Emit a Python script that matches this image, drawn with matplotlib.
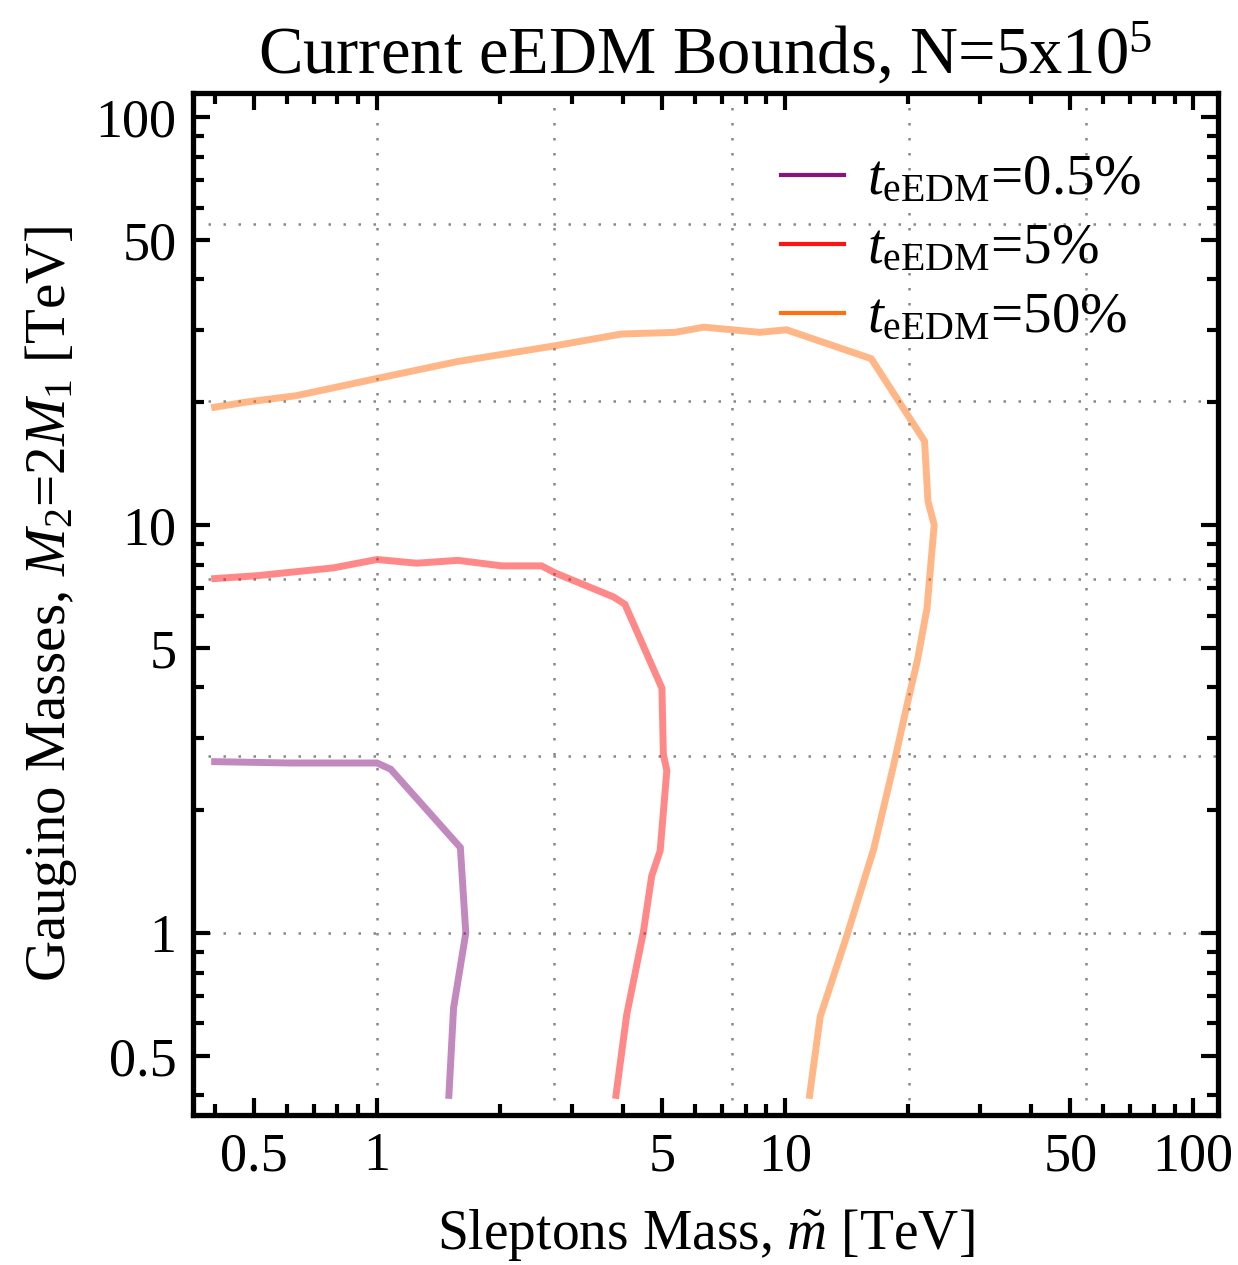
import numpy as np
import matplotlib
matplotlib.use('Agg')
import matplotlib.pyplot as plt
import matplotlib.ticker as ticker
from matplotlib.lines import Line2D

plt.rcParams['font.family'] = ['Liberation Serif', 'DejaVu Serif']
plt.rcParams['mathtext.fontset'] = 'custom'
plt.rcParams['mathtext.rm'] = 'Liberation Serif'
plt.rcParams['mathtext.it'] = 'Liberation Serif:italic'

# contour lines (TeV)
purple_x = [0.40, 0.61, 1.00, 1.08, 1.60, 1.65, 1.54, 1.50]
purple_y = [2.63, 2.61, 2.61, 2.52, 1.62, 1.00, 0.655, 0.40]

red_x = [0.40, 0.507, 0.781, 1.00, 1.25, 1.58, 2.02, 2.53, 2.73, 3.80, 4.05,
         4.99, 5.03, 5.13, 4.94, 4.71, 4.49, 4.09, 3.85]
red_y = [7.39, 7.51, 7.85, 8.23, 8.06, 8.19, 7.94, 7.94, 7.63, 6.66, 6.39,
         3.98, 2.74, 2.50, 1.59, 1.38, 1.00, 0.63, 0.40]

orange_x = [0.40, 0.48, 0.635, 1.00, 1.57, 2.71, 3.97, 5.37, 6.32, 8.66, 10.07,
            16.25, 21.96, 22.39, 23.19, 22.26, 21.08, 19.95, 18.38, 16.48,
            14.17, 12.19, 11.48]
orange_y = [19.44, 20.02, 20.75, 22.86, 25.14, 27.46, 29.38, 29.66, 30.54, 29.66,
            30.09, 25.57, 16.05, 11.43, 10.0, 6.24, 4.645, 3.67, 2.54, 1.605,
            0.986, 0.624, 0.40]

labels = [r'$t_{\rm eEDM}$=0.5%', r'$t_{\rm eEDM}$=5%', r'$t_{\rm eEDM}$=50%']
colors = ['#871481', '#ff1414', '#ff7010']

fig = plt.figure(figsize=(12.38, 12.65), dpi=100)
ax = fig.add_axes([193/1238, 1 - 1115/1265, 1025/1238, 1022/1265])

for xs, ys, c in zip([purple_x, red_x, orange_x], [purple_y, red_y, orange_y], colors):
    ax.plot(xs, ys, color=c, alpha=0.5, lw=5, solid_joinstyle='miter', zorder=3)

ax.set_xscale('log')
ax.set_yscale('log')
ax.set_xlim(0.354, 115)
ax.set_ylim(0.358, 114.5)

# Mathematica style grid at powers of e
grid_vals = np.exp(np.arange(0, 5))
for g in grid_vals:
    ax.axvline(g, color='#888888', lw=1.8, ls=(0, (1, 5)), zorder=1)
    ax.axhline(g, color='#888888', lw=1.8, ls=(0, (1, 5)), zorder=1)

major = [0.5, 1, 5, 10, 50, 100]
major_lbl = ['0.5', '1', '5', '10', '50', '100']
for axis in (ax.xaxis, ax.yaxis):
    axis.set_major_locator(ticker.FixedLocator(major))
    axis.set_major_formatter(ticker.FixedFormatter(major_lbl))
    axis.set_minor_locator(ticker.LogLocator(base=10, subs=np.arange(2, 10)))
    axis.set_minor_formatter(ticker.NullFormatter())

ax.tick_params(which='both', direction='in', top=True, right=True, width=3,
               labelsize=39, color='black')
ax.tick_params(which='major', length=12, pad=12)
ax.tick_params(which='minor', length=8)
for s in ax.spines.values():
    s.set_linewidth(3.8)

ax.set_title(r'Current eEDM Bounds, N=5x10$^{5}$', fontsize=48, pad=14)
ax.set_xlabel(r'Sleptons Mass, $\tilde{m}$ [TeV]', fontsize=40, labelpad=18)
ax.set_ylabel(r'Gaugino Masses, $M_2$=2$M_1$ [TeV]', fontsize=41, labelpad=12)

handles = [Line2D([0], [0], color=c, lw=3) for c in colors]
ax.legend(handles, labels, loc='upper left', bbox_to_anchor=(0.524, 0.99),
          frameon=False, fontsize=41, handlelength=1.1, handletextpad=0.4,
          labelspacing=0.3)

plt.savefig('out.png', dpi=100)
